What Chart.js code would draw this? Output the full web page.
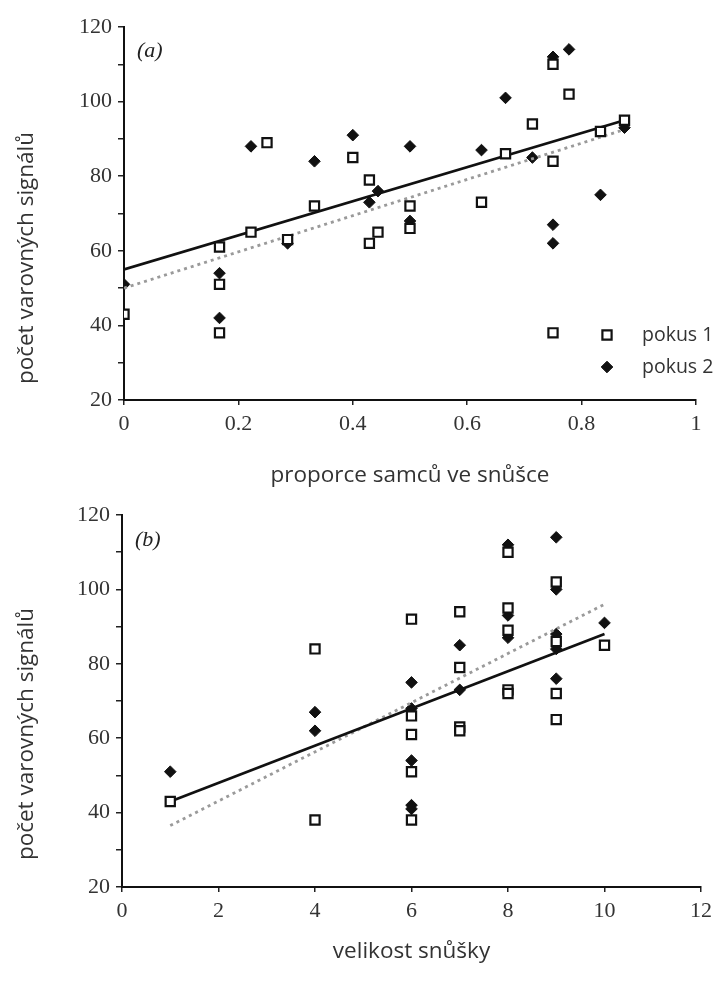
<!DOCTYPE html>
<html><head><meta charset="utf-8">
<script src="https://cdn.jsdelivr.net/npm/chart.js@4.4.1/dist/chart.umd.min.js"></script>
<style>
html,body{margin:0;padding:0;background:#fff;}
#wrap{position:relative;width:718px;height:981px;overflow:hidden;}
.panel{position:absolute;left:0;width:718px;}
canvas{display:block;}
</style></head><body>
<div id="wrap">
<div class="panel" style="top:0;height:490px"><canvas id="cA" width="718" height="490"></canvas></div>
<div class="panel" style="top:490px;height:491px"><canvas id="cB" width="718" height="491"></canvas></div>
</div>
<script>
// ---- data: panel (a) proporce samců ve snůšce ----
const seriesNames = ['pokus 1', 'pokus 2'];
const xA1 = [0, 0.167, 0.167, 0.167, 0.222, 0.25, 0.286, 0.333, 0.4, 0.429, 0.429, 0.444, 0.5, 0.5, 0.625, 0.667, 0.714, 0.75, 0.75, 0.75, 0.778, 0.833, 0.875];
const yA1 = [43, 61, 51, 38, 65, 89, 63, 72, 85, 79, 62, 65, 72, 66, 73, 86, 94, 110, 84, 38, 102, 92, 95];
const xA2 = [0, 0.167, 0.167, 0.222, 0.286, 0.333, 0.4, 0.429, 0.444, 0.5, 0.5, 0.625, 0.667, 0.714, 0.75, 0.75, 0.75, 0.778, 0.833, 0.875];
const yA2 = [51, 54, 42, 88, 62, 84, 91, 73, 76, 88, 68, 87, 101, 85, 112, 67, 62, 114, 75, 93];
const fitA1x = [0, 0.875];
const fitA1y = [55, 95];
const fitA2x = [0, 0.875];
const fitA2y = [50, 92.5];

// ---- data: panel (b) velikost snůšky ----
const xB1 = [1, 4, 4, 6, 6, 6, 6, 6, 7, 7, 7, 7, 8, 8, 8, 8, 8, 9, 9, 9, 9, 10];
const yB1 = [43, 84, 38, 92, 66, 61, 51, 38, 94, 79, 63, 62, 110, 95, 89, 73, 72, 102, 86, 72, 65, 85];
const xB2 = [1, 4, 4, 6, 6, 6, 6, 6, 7, 7, 8, 8, 8, 9, 9, 9, 9, 9, 10];
const yB2 = [51, 67, 62, 75, 68, 54, 42, 41, 85, 73, 112, 93, 87, 114, 100, 88, 84, 76, 91];
const fitB1x = [1, 10];
const fitB1y = [43, 88];
const fitB2x = [1, 10];
const fitB2y = [36.5, 96];

// ---- text ----
const yTitle = 'počet varovných signálů';
const xTitleA = 'proporce samců ve snůšce';
const xTitleB = 'velikost snůšky';
const panelA = '(a)';
const panelB = '(b)';

function pts(xs, ys) { return xs.map((x, i) => ({x: x, y: ys[i]})); }

const SANS = '"Open Sans", "Noto Sans", sans-serif';
const SERIF = '"Liberation Serif", "DejaVu Serif", serif';
const TXT = '#333';
const TITLE_SIZE = 22.5;
const TICK_SIZE = 22;

const decorPlugin = {
  id: 'decor',
  afterDraw(chart, args, o) {
    const ctx = chart.ctx;
    const ca = chart.chartArea;
    ctx.save();
    // panel label
    ctx.font = 'italic 22px ' + SERIF;
    ctx.fillStyle = '#222';
    ctx.textAlign = 'left';
    ctx.textBaseline = 'middle';
    ctx.fillText(o.panel, ca.left + o.panelDx, ca.top + o.panelDy);
    // y title
    ctx.save();
    ctx.translate(o.yTitleX, o.yTitleY);
    ctx.rotate(-Math.PI / 2);
    ctx.font = TITLE_SIZE + 'px ' + SANS;
    ctx.fillStyle = TXT;
    ctx.textAlign = 'center';
    ctx.textBaseline = 'middle';
    ctx.fillText(o.yTitle, 0, 0);
    ctx.restore();
    // legend
    if (o.legend) {
      ctx.font = '19.5px ' + SANS;
      ctx.textAlign = 'left';
      ctx.textBaseline = 'middle';
      chart.data.datasets.forEach((ds) => {
        if (!ds.inLegend) return;
        const mx = ca.right - o.legendDx;
        const my = ca.bottom - o.legendDy + ds.legendRow * o.legendGap;
        ctx.fillStyle = ds.backgroundColor;
        ctx.strokeStyle = ds.borderColor;
        ctx.lineWidth = ds.borderWidth;
        Chart.helpers.drawPoint(ctx, {pointStyle: ds.pointStyle, radius: ds.pointRadius, borderWidth: ds.borderWidth, rotation: 0}, mx, my);
        ctx.fillStyle = TXT;
        ctx.fillText(ds.label, mx + o.legendTextDx, my);
      });
    }
    ctx.restore();
  }
};

function makeChart(id, cfg) {
  const datasets = [
    {label: seriesNames[0], data: pts(cfg.x1, cfg.y1), pointStyle: 'rect', pointRadius: 6.5, borderWidth: 2.2,
     borderColor: '#111', backgroundColor: '#fff', order: 0, inLegend: true, legendRow: 0},
    {label: 'fit 1', data: pts(cfg.f1x, cfg.f1y), showLine: true, pointRadius: 0, borderWidth: 2.8,
     borderColor: '#111', backgroundColor: '#111', order: 1},
    {label: 'fit 2', data: pts(cfg.f2x, cfg.f2y), showLine: true, pointRadius: 0, borderWidth: 2.8,
     borderColor: '#9a9a9a', borderDash: [3, 4], backgroundColor: '#9a9a9a', order: 1},
    {label: seriesNames[1], data: pts(cfg.x2, cfg.y2), pointStyle: 'rectRot', pointRadius: 5.8, borderWidth: 1,
     borderColor: '#111', backgroundColor: '#111', order: 2, inLegend: true, legendRow: 1}
  ];
  return new Chart(document.getElementById(id), {
    type: 'scatter',
    data: {datasets},
    plugins: [decorPlugin],
    options: {
      responsive: false,
      animation: false,
      events: [],
      layout: {padding: {left: 0, right: cfg.padRight, top: cfg.padTop, bottom: 0}},
      plugins: {
        legend: {display: false},
        tooltip: {enabled: false},
        decor: cfg.decor
      },
      scales: {
        x: {
          type: 'linear', min: cfg.xMin, max: cfg.xMax,
          afterFit(s) { s.height = cfg.xHeight; },
          ticks: {stepSize: cfg.xStep, font: {family: SERIF, size: TICK_SIZE}, color: TXT, padding: 6, maxRotation: 0,
                  callback: (v) => String(Math.round(v * 10) / 10)},
          grid: {drawOnChartArea: false, drawTicks: true, tickLength: 5, color: '#222', lineWidth: 1.5},
          border: {display: true, color: '#111', width: 2},
          title: {display: true, text: cfg.xTitle, font: {family: SANS, size: TITLE_SIZE}, color: TXT,
                  padding: {top: 0, bottom: cfg.xTitlePad}}
        },
        y: {
          type: 'linear', min: 20, max: 120,
          afterFit(s) { s.width = cfg.yWidth; },
          ticks: {stepSize: 10, font: {family: SERIF, size: TICK_SIZE}, color: TXT, padding: 6,
                  callback: (v) => (v % 20 === 0 ? String(v) : '')},
          grid: {drawOnChartArea: false, drawTicks: true, tickLength: 6, color: '#222', lineWidth: 1.5},
          border: {display: true, color: '#111', width: 2}
        }
      }
    }
  });
}

makeChart('cA', {
  x1: xA1, y1: yA1, x2: xA2, y2: yA2, f1x: fitA1x, f1y: fitA1y, f2x: fitA2x, f2y: fitA2y,
  xMin: 0, xMax: 1, xStep: 0.2, xTitle: xTitleA, xTitlePad: 1,
  padRight: 22, padTop: 27, xHeight: 90, yWidth: 124,
  decor: {panel: panelA, panelDx: 13, panelDy: 24, yTitle: yTitle, yTitleX: 27, yTitleY: 258,
          legend: true, legendDx: 89, legendDy: 65, legendGap: 32, legendTextDx: 35}
});
makeChart('cB', {
  x1: xB1, y1: yB1, x2: xB2, y2: yB2, f1x: fitB1x, f1y: fitB1y, f2x: fitB2x, f2y: fitB2y,
  xMin: 0, xMax: 12, xStep: 2, xTitle: xTitleB, xTitlePad: 16,
  padRight: 17, padTop: 25, xHeight: 94, yWidth: 122,
  decor: {panel: panelB, panelDx: 13, panelDy: 25, yTitle: yTitle, yTitleX: 27, yTitleY: 244,
          legend: false}
});
</script>
</body></html>
